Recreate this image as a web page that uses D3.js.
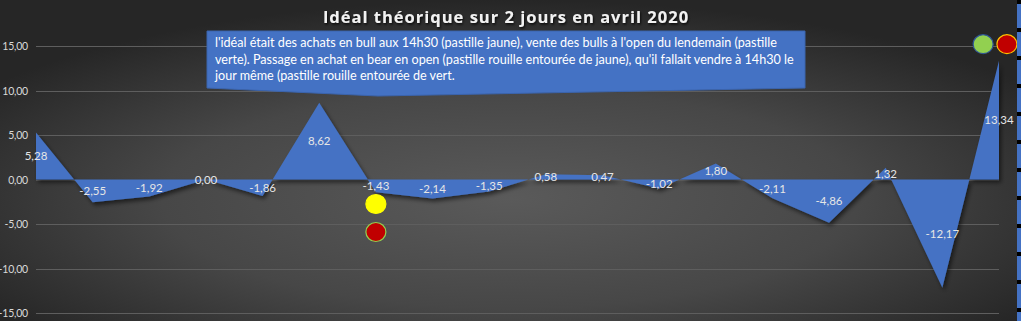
<!DOCTYPE html>
<html><head><meta charset="utf-8">
<script src="https://cdn.jsdelivr.net/npm/d3@7"></script>
<style>
html,body{margin:0;padding:0;background:#2a2a2a;overflow:hidden}
svg{display:block}
</style></head>
<body>
<svg id="chart" width="1021" height="321"></svg>
<script>
const categories = ["p1","p2","p3","p4","p5","p6","p7","p8","p9","p10","p11","p12","p13","p14","p15","p16","p17","p18"];
const values = [5.28,-2.55,-1.92,0.00,-1.86,8.62,-1.43,-2.14,-1.35,0.58,0.47,-1.02,1.80,-2.11,-4.86,1.32,-12.17,13.34];
const yTicks = [15,10,5,0,-5,-10,-15];
const title = "Idéal théorique sur 2 jours en avril 2020";
const noteLines = [
 "l'idéal était des  achats en bull aux 14h30 (pastille jaune), vente des bulls à l'open du lendemain (pastille",
 "verte). Passage en achat en bear en open (pastille rouille entourée de jaune), qu'il fallait vendre à 14h30 le",
 "jour même (pastille rouille entourée de vert."
];
// markers: position in category index units and value units
const markers = [
 {i:6, v:-2.75, fill:"#ffff00", stroke:"#ffff00"},
 {i:6, v:-5.9, fill:"#c00000", stroke:"#92d050"},
 {i:16.72, v:15.2, fill:"#92d050", stroke:"#2f5597"},
 {i:17.14, v:15.2, fill:"#c00000", stroke:"#ffc000"}
];

const W=1021,H=321;
const svg=d3.select("#chart");
const defs=svg.append("defs");
const rg=defs.append("radialGradient").attr("id","bg").attr("cx","50%").attr("cy","62%").attr("r","62%")
  .attr("gradientUnits","objectBoundingBox");
rg.append("stop").attr("offset","0%").attr("stop-color","#5a5a5a");
rg.append("stop").attr("offset","55%").attr("stop-color","#474747");
rg.append("stop").attr("offset","100%").attr("stop-color","#262626");
const sh=defs.append("filter").attr("id","sh").attr("x","-10%").attr("y","-10%").attr("width","120%").attr("height","130%");
sh.append("feDropShadow").attr("dx",2).attr("dy",3).attr("stdDeviation",2).attr("flood-color","#000").attr("flood-opacity",0.55);
const ts=defs.append("filter").attr("id","ts");
ts.append("feDropShadow").attr("dx",1).attr("dy",1.5).attr("stdDeviation",1).attr("flood-color","#000").attr("flood-opacity",0.8);

svg.append("rect").attr("width",W).attr("height",H).attr("fill","url(#bg)");

const x=d3.scalePoint().domain(categories).range([36,999]);
const y=d3.scaleLinear().domain([-15,15]).range([313,46]);
const xi=i=>x(categories[0])+x.step()*i;

// gridlines
svg.append("g").selectAll("line").data(yTicks).join("line")
  .attr("x1",36).attr("x2",999).attr("y1",d=>Math.round(y(d))+0.5).attr("y2",d=>Math.round(y(d))+0.5)
  .attr("stroke","#5e5e5e").attr("stroke-width",1);

// y axis labels
svg.append("g").selectAll("text").data(yTicks).join("text")
  .attr("x",28).attr("y",d=>y(d)+4).attr("text-anchor","end")
  .attr("font-family","Lato, 'Open Sans', sans-serif").attr("font-size",10.5).attr("letter-spacing",-0.2).attr("fill","#d9d9d9")
  .text(d=>d3.format(".2f")(d).replace(".",",").replace("−","-"));

// area
const area=d3.area().x((d,i)=>x(categories[i])).y0(y(0)).y1(d=>y(d));
svg.append("path").datum(values).attr("d",area).attr("fill","#4472c4").attr("filter","url(#sh)");

// data labels
svg.append("g").selectAll("text").data(values).join("text")
  .attr("x",(d,i)=>x(categories[i])).attr("y",d=>(y(d)+y(0))/2+4).attr("text-anchor","middle")
  .attr("font-family","Lato, 'Open Sans', sans-serif").attr("font-size",11.5).attr("fill","#e6e6e6")
  .text(d=>d3.format(".2f")(d).replace(".",",").replace("−","-"));

// markers
svg.append("g").selectAll("ellipse").data(markers).join("ellipse")
  .attr("cx",d=>xi(d.i)).attr("cy",d=>y(d.v)).attr("rx",10).attr("ry",9.5)
  .attr("fill",d=>d.fill).attr("stroke",d=>d.stroke).attr("stroke-width",1.2);

// callout
svg.append("path").attr("d","M207,31 L805,31 L805,88 L378,96 L207,88 Z").attr("fill","#4472c4").attr("stroke","#3b64ad").attr("stroke-width",1);
svg.append("g").selectAll("text").data(noteLines).join("text")
  .attr("x",215).attr("y",(d,i)=>47+i*16.5)
  .attr("font-family","Lato, 'Open Sans', sans-serif").attr("font-size",12.6).attr("fill","#ffffff")
  .text(d=>d);

// title
svg.append("text").attr("x",506).attr("y",23).attr("text-anchor","middle")
  .attr("font-family","'Open Sans', Lato, sans-serif").attr("font-weight","bold").attr("font-size",16.5)
  .attr("letter-spacing",1).attr("fill","#f2f2f2").attr("filter","url(#ts)").text(title);

// right selection border
svg.append("rect").attr("x",1017).attr("y",0).attr("width",4).attr("height",H).attr("fill","#4472c4");
svg.append("line").attr("x1",1019).attr("x2",1019).attr("y1",0).attr("y2",H)
  .attr("stroke","#000").attr("stroke-width",4).attr("stroke-dasharray","4,24");
</script>
</body></html>
